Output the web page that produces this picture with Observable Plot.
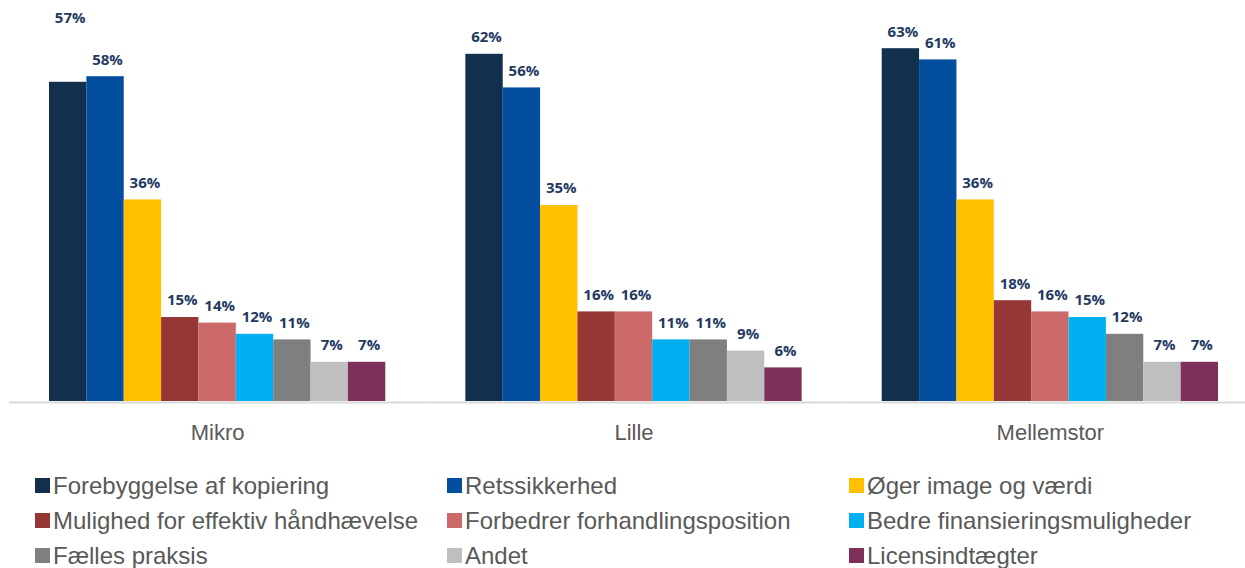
<!DOCTYPE html>
<html><head><meta charset="utf-8">
<script src="https://cdn.jsdelivr.net/npm/d3@7"></script>
<script src="https://cdn.jsdelivr.net/npm/@observablehq/plot@0.6"></script>
<style>
html,body{margin:0;padding:0;background:#fff;overflow:hidden;width:1245px;height:568px}
#legend{display:grid;grid-template-columns:412px 402px auto;padding-left:35px;font-family:"Liberation Sans",Arial,sans-serif;font-size:24px;color:#595959}
.item{display:flex;align-items:center;height:35px;white-space:nowrap}
.sw{width:15px;height:15px;margin-right:3px;flex:none}
</style></head><body><div id="chart"></div><div id="legend"></div>
<script>
const groups = ["Mikro", "Lille", "Mellemstor"];
const series = [
  "Forebyggelse af kopiering",
  "Retssikkerhed",
  "Øger image og værdi",
  "Mulighed for effektiv håndhævelse",
  "Forbedrer forhandlingsposition",
  "Bedre finansieringsmuligheder",
  "Fælles praksis",
  "Andet",
  "Licensindtægter"
];
const colors = ["#12304e", "#044ea0", "#ffc000", "#953735", "#cc6a6a", "#00b0f0", "#7f7f7f", "#bfbfbf", "#7f305a"];
const mikro = [57, 58, 36, 15, 14, 12, 11, 7, 7];
const lille = [62, 56, 35, 16, 16, 11, 11, 9, 6];
const mellemstor = [63, 61, 36, 18, 16, 15, 12, 7, 7];

const valuesByGroup = [mikro, lille, mellemstor];
const data = groups.flatMap((g, gi) => series.map((s, si) => ({group: g, series: s, value: valuesByGroup[gi][si]})));
const isShifted = d => d.group === groups[0] && d.series === series[0];

const chart = Plot.plot({
  width: 1245, height: 468,
  marginLeft: 49, marginRight: 27, marginTop: 9, marginBottom: 67,
  style: {fontFamily: '"Liberation Sans", Arial, sans-serif', fontSize: "22px", color: "#595959", background: "#fff"},
  fx: {domain: groups, paddingInner: 80 / 416, paddingOuter: 0, round: false, axis: "bottom", tickSize: 0, tickPadding: 23, label: null},
  x: {domain: series, padding: 0, round: false, axis: null},
  y: {domain: [0, 70], axis: null},
  color: {domain: series, range: colors},
  marks: [
    Plot.ruleY([0], {stroke: "#d9d9d9", strokeWidth: 2, insetLeft: -40, insetRight: -40, dy: 1}),
    Plot.barY(data, {fx: "group", x: "series", y: "value", fill: "series"}),
    Plot.text(data, {filter: d => !isShifted(d), fx: "group", x: "series", y: "value", text: d => d.value + "%", dy: -17, dx: 2, fill: "#1f3a5f", fontFamily: "Open Sans", fontWeight: "bold", fontSize: 15}),
    Plot.text(data, {filter: isShifted, fx: "group", x: "series", y: "value", text: d => d.value + "%", dy: -64, dx: 2, fill: "#1f3a5f", fontFamily: "Open Sans", fontWeight: "bold", fontSize: 15})
  ]
});
document.getElementById("chart").appendChild(chart);

const legend = document.getElementById("legend");
series.forEach((s, i) => {
  const item = document.createElement("div");
  item.className = "item";
  const sw = document.createElement("span");
  sw.className = "sw";
  sw.style.background = colors[i];
  const t = document.createElement("span");
  t.textContent = s;
  item.appendChild(sw);
  item.appendChild(t);
  legend.appendChild(item);
});
</script></body></html>
